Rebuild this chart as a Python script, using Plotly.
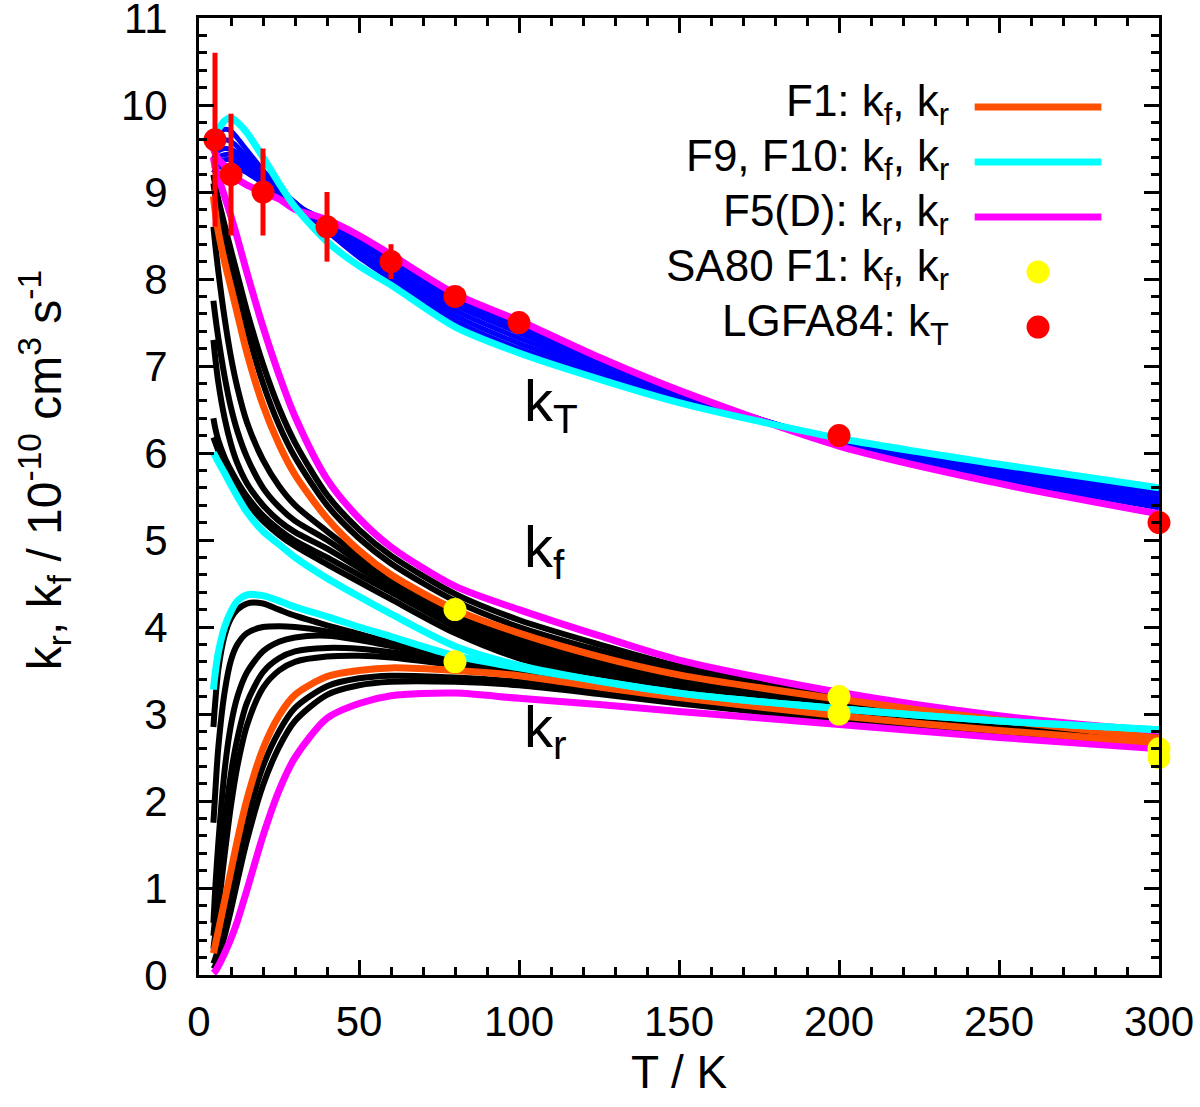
import plotly.graph_objects as go

# temperature grid shared by all model curves (K)
T = [4.5, 5, 6, 8, 10, 12, 15, 20, 25, 30, 40, 50, 60, 80, 100, 125, 150, 200, 250, 300]

# total rate kT
kT_f5d = [9.5, 9.45, 9.38, 9.3, 9.22, 9.15, 9.08, 9.0, 8.92, 8.8, 8.68, 8.5, 8.28, 7.83, 7.52, 7.1, 6.72, 6.08, 5.65, 5.3]
kT_f9 = [9.6, 9.66, 9.72, 9.82, 9.85, 9.8, 9.68, 9.4, 9.1, 8.83, 8.43, 8.15, 7.93, 7.45, 7.15, 6.85, 6.58, 6.17, 5.87, 5.6]
kT_blue1 = [9.55, 9.6, 9.67, 9.72, 9.7, 9.62, 9.48, 9.25, 9.05, 8.88, 8.55, 8.25, 8.0, 7.52, 7.2, 6.9, 6.62, 6.16, 5.85, 5.55]
kT_blue2 = [9.45, 9.5, 9.56, 9.6, 9.58, 9.52, 9.4, 9.2, 9.03, 8.88, 8.58, 8.3, 8.05, 7.58, 7.26, 6.94, 6.64, 6.15, 5.82, 5.52]
kT_blue3 = [9.38, 9.42, 9.47, 9.5, 9.49, 9.45, 9.35, 9.17, 9.01, 8.87, 8.61, 8.35, 8.1, 7.64, 7.32, 6.98, 6.66, 6.14, 5.79, 5.48]
kT_blue4 = [9.32, 9.35, 9.4, 9.43, 9.43, 9.4, 9.3, 9.14, 9.0, 8.86, 8.63, 8.4, 8.15, 7.7, 7.38, 7.02, 6.68, 6.13, 5.76, 5.44]
kT_blue5 = [9.27, 9.3, 9.34, 9.37, 9.37, 9.34, 9.26, 9.12, 8.99, 8.86, 8.65, 8.44, 8.19, 7.74, 7.43, 7.06, 6.7, 6.12, 5.73, 5.4]
kT_blue6 = [9.22, 9.25, 9.28, 9.3, 9.3, 9.28, 9.22, 9.1, 8.98, 8.85, 8.67, 8.46, 8.22, 7.78, 7.47, 7.08, 6.71, 6.11, 5.7, 5.37]

# forward rate kf
kf_f1 = [8.95, 8.8, 8.55, 8.2, 7.9, 7.6, 7.15, 6.55, 6.1, 5.75, 5.25, 4.88, 4.6, 4.2, 3.93, 3.66, 3.45, 3.17, 2.93, 2.72]
kf_f9 = [6.0, 5.97, 5.9, 5.77, 5.63, 5.5, 5.32, 5.1, 4.95, 4.8, 4.56, 4.35, 4.15, 3.78, 3.56, 3.38, 3.24, 3.06, 2.92, 2.82]
kf_f5d = [9.4, 9.3, 9.18, 8.95, 8.72, 8.47, 8.07, 7.45, 6.9, 6.42, 5.7, 5.25, 4.92, 4.47, 4.2, 3.9, 3.62, 3.25, 2.98, 2.8]
kf_black1 = [6.18, 6.13, 6.03, 5.86, 5.72, 5.6, 5.43, 5.22, 5.06, 4.93, 4.72, 4.52, 4.32, 3.93, 3.64, 3.42, 3.27, 3.05, 2.87, 2.74]
kf_black2 = [6.4, 6.3, 6.15, 5.95, 5.8, 5.67, 5.5, 5.28, 5.12, 4.99, 4.8, 4.6, 4.4, 4.0, 3.7, 3.46, 3.3, 3.07, 2.88, 2.73]
kf_black3 = [7.3, 7.12, 6.82, 6.4, 6.1, 5.88, 5.65, 5.4, 5.22, 5.09, 4.9, 4.68, 4.46, 4.05, 3.76, 3.5, 3.33, 3.09, 2.89, 2.73]
kf_black4 = [7.75, 7.6, 7.33, 6.88, 6.52, 6.25, 5.95, 5.6, 5.38, 5.22, 5.0, 4.75, 4.51, 4.1, 3.82, 3.56, 3.37, 3.11, 2.9, 2.73]
kf_black5 = [8.6, 8.42, 8.1, 7.55, 7.1, 6.75, 6.35, 5.92, 5.62, 5.4, 5.1, 4.82, 4.56, 4.15, 3.87, 3.6, 3.4, 3.13, 2.91, 2.73]
kf_black6 = [9.1, 8.98, 8.78, 8.45, 8.15, 7.86, 7.42, 6.8, 6.32, 5.95, 5.4, 5.02, 4.73, 4.3, 4.0, 3.73, 3.5, 3.2, 2.95, 2.76]
kf_black7 = [9.2, 9.1, 8.92, 8.62, 8.33, 8.05, 7.63, 7.02, 6.52, 6.12, 5.52, 5.12, 4.82, 4.38, 4.08, 3.8, 3.55, 3.22, 2.96, 2.77]

# reverse rate kr
kr_f1 = [0.25, 0.33, 0.5, 0.85, 1.2, 1.55, 2.02, 2.6, 2.98, 3.22, 3.43, 3.5, 3.53, 3.5, 3.44, 3.31, 3.19, 2.98, 2.81, 2.67]
kr_f9 = [3.28, 3.45, 3.7, 4.0, 4.18, 4.3, 4.37, 4.36, 4.3, 4.23, 4.12, 4.0, 3.89, 3.67, 3.53, 3.38, 3.24, 3.06, 2.92, 2.82]
kr_f5d = [0.02, 0.04, 0.1, 0.25, 0.42, 0.62, 0.98, 1.6, 2.12, 2.5, 2.95, 3.12, 3.21, 3.24, 3.18, 3.11, 3.03, 2.88, 2.73, 2.6]
kr_black1 = [2.85, 3.1, 3.5, 3.9, 4.1, 4.2, 4.27, 4.27, 4.2, 4.13, 4.02, 3.92, 3.82, 3.64, 3.5, 3.36, 3.23, 3.04, 2.88, 2.76]
kr_black2 = [1.75, 2.05, 2.6, 3.25, 3.62, 3.8, 3.93, 4.0, 4.01, 4.0, 3.95, 3.87, 3.79, 3.63, 3.5, 3.35, 3.22, 3.03, 2.87, 2.75]
kr_black3 = [0.6, 0.95, 1.5, 2.35, 2.88, 3.2, 3.48, 3.72, 3.83, 3.88, 3.9, 3.85, 3.78, 3.63, 3.5, 3.35, 3.22, 3.02, 2.86, 2.74]
kr_black4 = [0.45, 0.65, 1.05, 1.75, 2.32, 2.72, 3.13, 3.48, 3.64, 3.72, 3.76, 3.75, 3.71, 3.6, 3.48, 3.34, 3.21, 3.01, 2.85, 2.73]
kr_black5 = [0.3, 0.45, 0.75, 1.38, 1.95, 2.4, 2.87, 3.3, 3.5, 3.6, 3.66, 3.67, 3.65, 3.56, 3.46, 3.33, 3.2, 3.0, 2.84, 2.72]
kr_black6 = [0.13, 0.18, 0.3, 0.6, 0.95, 1.3, 1.78, 2.4, 2.8, 3.07, 3.32, 3.41, 3.44, 3.42, 3.37, 3.26, 3.15, 2.95, 2.78, 2.65]
kr_black7 = [0.07, 0.1, 0.2, 0.45, 0.75, 1.08, 1.55, 2.18, 2.62, 2.92, 3.22, 3.33, 3.37, 3.37, 3.33, 3.23, 3.12, 2.93, 2.76, 2.63]

# measurements
T_lgfa = [5, 10, 20, 40, 60, 80, 100, 200, 300]
kT_lgfa = [9.6, 9.2, 9.0, 8.6, 8.2, 7.8, 7.5, 6.2, 5.2]
kT_lgfa_err = [1.0, 0.7, 0.5, 0.4, 0.2, 0, 0, 0, 0]
T_sa80 = [80, 80, 200, 200, 300, 300]
k_sa80 = [4.2, 3.6, 3.2, 3.0, 2.6, 2.5]

x_ticks = [0, 50, 100, 150, 200, 250, 300]
y_ticks = [0, 1, 2, 3, 4, 5, 6, 7, 8, 9, 10, 11]

legend_labels = [
    "F1: k<sub>f</sub>, k<sub>r</sub>",
    "F9, F10: k<sub>f</sub>, k<sub>r</sub>",
    "F5(D): k<sub>r</sub>, k<sub>r</sub>",
    "SA80 F1: k<sub>f</sub>, k<sub>r</sub>",
    "LGFA84: k<sub>T</sub>",
]

ORANGE = "#ff4f00"
CYAN = "#00ffff"
MAGENTA = "#ff00ff"
BLUE = "#0000ff"
FONT = "Liberation Sans, Arial, sans-serif"

fig = go.Figure()


def add_line(y, color, width):
    fig.add_trace(go.Scatter(x=T, y=y, mode="lines", showlegend=False, hoverinfo="skip",
                             line=dict(color=color, width=width, shape="spline", smoothing=0.8)))


for y in [kf_black1, kf_black2, kf_black3, kf_black4, kf_black5, kf_black6, kf_black7,
          kr_black1, kr_black2, kr_black3, kr_black4, kr_black5, kr_black6, kr_black7]:
    add_line(y, "black", 6)

for y in [kT_blue1, kT_blue2, kT_blue3, kT_blue4, kT_blue5, kT_blue6]:
    add_line(y, BLUE, 5)

for y in [kT_f5d, kf_f5d, kr_f5d]:
    add_line(y, MAGENTA, 7)
for y in [kf_f1, kr_f1]:
    add_line(y, ORANGE, 7)
for y in [kT_f9, kf_f9, kr_f9]:
    add_line(y, CYAN, 7)

fig.add_trace(go.Scatter(x=T_sa80, y=k_sa80, mode="markers", showlegend=False, cliponaxis=False,
                         marker=dict(color="#ffff00", size=23, line=dict(width=0))))
fig.add_trace(go.Scatter(x=T_lgfa, y=kT_lgfa, mode="markers", showlegend=False, cliponaxis=False,
                         marker=dict(color="#ff0000", size=23, line=dict(width=0)),
                         error_y=dict(type="data", array=kT_lgfa_err, color="#ff0000",
                                      thickness=5, width=0)))

# in-plot labels
for txt, yv in [("k<sub>T</sub>", 6.55), ("k<sub>f</sub>", 4.87), ("k<sub>r</sub>", 2.8)]:
    fig.add_annotation(x=101, y=yv, xref="x", yref="y", text=txt, showarrow=False,
                       xanchor="left", yanchor="middle", font=dict(family=FONT, size=58, color="black"))

# hand-built key: text right-aligned, sample to the right
row_y = [0.907, 0.8495, 0.792, 0.7346, 0.677]
for i, lab in enumerate(legend_labels):
    fig.add_annotation(x=0.783, y=row_y[i] + 0.003, xref="paper", yref="paper", text=lab,
                       showarrow=False, xanchor="right", yanchor="middle",
                       font=dict(family=FONT, size=44, color="black"))
for i, col in enumerate([ORANGE, CYAN, MAGENTA]):
    fig.add_shape(type="line", xref="paper", yref="paper", x0=0.808, x1=0.940,
                  y0=row_y[i], y1=row_y[i], line=dict(color=col, width=7))
for i, col in [(3, "#ffff00"), (4, "#ff0000")]:
    fig.add_shape(type="circle", xref="paper", yref="paper", xsizemode="pixel", ysizemode="pixel",
                  xanchor=0.874, yanchor=row_y[i], x0=-11.5, x1=11.5, y0=-11.5, y1=11.5,
                  fillcolor=col, line=dict(width=0))

# axis titles
fig.add_annotation(x=-0.161, y=0.528, xref="paper", yref="paper", textangle=-90, showarrow=False,
                   xanchor="center", yanchor="middle",
                   text="k<sub>r</sub>, k<sub>f</sub> / 10<sup>-10</sup> cm<sup>3</sup> s<sup>-1</sup>",
                   font=dict(family=FONT, size=48, color="black"))
fig.add_annotation(x=0.5, y=-0.101, xref="paper", yref="paper", showarrow=False,
                   xanchor="center", yanchor="middle",
                   text="T / K", font=dict(family=FONT, size=46, color="black"))

axis_common = dict(showgrid=False, zeroline=False, showline=True, linecolor="black", linewidth=3,
                   mirror="allticks", ticks="inside", ticklen=15, tickwidth=2.5, tickcolor="black",
                   ticklabeloverflow="allow", automargin=False,
                   tickfont=dict(family=FONT, size=42, color="black"))
fig.update_xaxes(range=[0, 300], tickmode="array", tickvals=x_ticks, ticklabelstandoff=8,
                 minor=dict(ticks="inside", ticklen=8, dtick=10, tickwidth=2.5, tickcolor="black"),
                 **axis_common)
fig.update_yaxes(range=[0, 11.0001], tickmode="array", tickvals=y_ticks, ticklabelstandoff=20,
                 minor=dict(ticks="inside", ticklen=8, dtick=0.2, tickwidth=2.5, tickcolor="black"),
                 **axis_common)

fig.update_layout(width=1200, height=1107, autosize=False,
                  margin=dict(l=199, r=41, t=18, b=132, autoexpand=False),
                  plot_bgcolor="white", paper_bgcolor="white",
                  font=dict(family=FONT, color="black"), showlegend=False)

# drop the default 8 px page margin so the figure sits flush in the window
fig.write_html("out.html", config={"displayModeBar": False},
               post_script="document.body.style.margin='0';document.body.style.overflow='hidden';")
